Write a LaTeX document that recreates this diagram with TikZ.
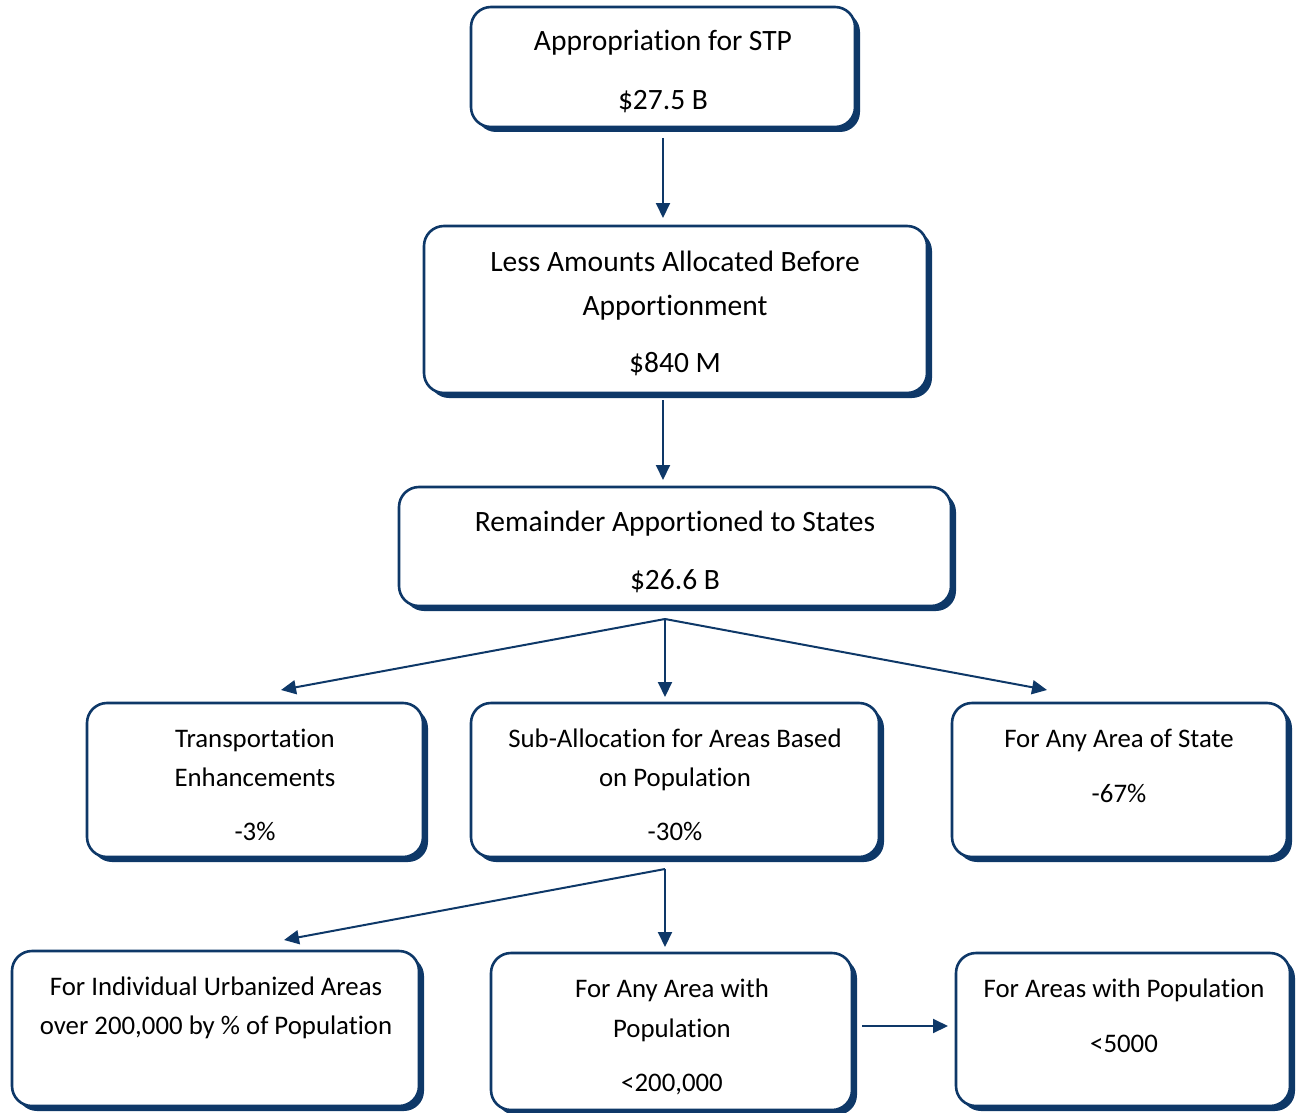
\documentclass[tikz,border=0pt]{standalone}
\usepackage{fontspec}
\setmainfont{Carlito}[Ligatures=NoCommon]
\usetikzlibrary{shadows,arrows.meta}
\definecolor{navy}{RGB}{14,56,104}
\tikzset{
  box/.style={rectangle, rounded corners=20pt, draw=navy, line width=2.6pt, fill=white, inner sep=0pt,
    drop shadow={shadow xshift=5pt, shadow yshift=-5pt, fill=navy, opacity=1}},
  txt/.style={anchor=base, inner sep=0pt, font=\fontsize{29.5}{34}\selectfont, text=black},
  stxt/.style={anchor=base, inner sep=0pt, font=\fontsize{26.8}{32}\selectfont, text=black},
  arr/.style={draw=navy, line width=2pt, -{Triangle[length=15pt,width=14pt]}}
}
\begin{document}
\begin{tikzpicture}[x=1pt,y=-1pt]
\useasboundingbox (0,0) rectangle (1296,1113);
% boxes
\node[box, minimum width=384pt, minimum height=120pt] (b1) at (663,67) {};
\node[box, minimum width=503pt, minimum height=167pt] (b2) at (675.5,309.5) {};
\node[box, minimum width=552pt, minimum height=119pt] (b3) at (675,546.5) {};
\node[box, minimum width=336pt, minimum height=154pt] (b4) at (255,780) {};
\node[box, minimum width=408pt, minimum height=154pt] (b5) at (675,780) {};
\node[box, minimum width=335pt, minimum height=154pt] (b6) at (1119.5,780) {};
\node[box, minimum width=407pt, minimum height=155pt] (b7) at (215.5,1028.5) {};
\node[box, minimum width=361pt, minimum height=157pt] (b8) at (671.5,1031.5) {};
\node[box, minimum width=334pt, minimum height=153pt] (b9) at (1123,1029.5) {};
% texts
\node[txt] (t1a) at (663,51) {Appropriation for STP};
\node[txt] (t1b) at (663,110) {\$27.5 B};
\node[txt] (t2a) at (675,271) {Less Amounts Allocated Before};
\node[txt] (t2b) at (675,315) {Apportionment};
\node[txt] (t2c) at (675,372) {\$840 M};
\node[txt] (t3a) at (675,531) {Remainder Apportioned to States};
\node[txt] (t3b) at (675,589) {\$26.6 B};
\node[stxt] (t4a) at (255,747) {Transportation};
\node[stxt] (t4b) at (255,786) {Enhancements};
\node[stxt] (t4c) at (255,840) {-3\%};
\node[stxt] (t5a) at (675,747) {Sub-Allocation for Areas Based};
\node[stxt] (t5b) at (675,786) {on Population};
\node[stxt] (t5c) at (675,840) {-30\%};
\node[stxt] (t6a) at (1119,747) {For Any Area of State};
\node[stxt] (t6b) at (1119,802) {-67\%};
\node[stxt] (t7a) at (216,995) {For Individual Urbanized Areas};
\node[stxt] (t7b) at (216,1034) {over 200,000 by \% of Population};
\node[stxt] (t8a) at (672,997) {For Any Area with};
\node[stxt] (t8b) at (672,1037) {Population};
\node[stxt] (t8c) at (672,1091) {<200,000};
\node[stxt] (t9a) at (1124,997) {For Areas with Population};
\node[stxt] (t9b) at (1124,1052) {<5000};
% connector points
\coordinate (s1) at (663,138);
\coordinate (e1) at (663,218);
\coordinate (s2) at (663,400);
\coordinate (e2) at (663,480);
\coordinate (j1) at (665,619);
\coordinate (e4) at (281,690);
\coordinate (e5) at (665,697);
\coordinate (e6) at (1047,690);
\coordinate (j2) at (665,869);
\coordinate (e7) at (284,940);
\coordinate (e8) at (665,947);
\coordinate (s9) at (862,1026);
\coordinate (e9) at (948,1026);
% connectors
\draw[arr] (s1) -- (e1);
\draw[arr] (s2) -- (e2);
\draw[arr] (j1) -- (e4);
\draw[arr] (j1) -- (e5);
\draw[arr] (j1) -- (e6);
\draw[arr] (j2) -- (e7);
\draw[arr] (j2) -- (e8);
\draw[arr] (s9) -- (e9);
\end{tikzpicture}
\end{document}
